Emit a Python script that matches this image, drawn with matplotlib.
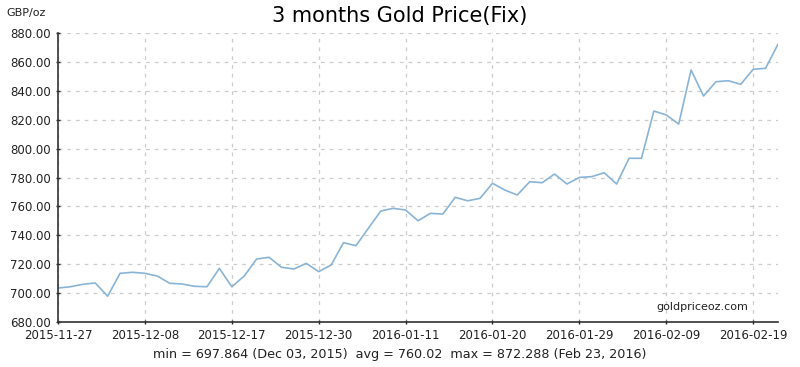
#!/usr/bin/env python3
# 3 months gold price (GBP fix), drawn against trading-day index
import matplotlib
matplotlib.use("Agg")
import matplotlib.pyplot as plt

# --- DATA ---
prices = [
    703.5, 704.4, 706.1, 707.0, 697.864, 713.7, 714.4, 713.7, 711.8, 706.8,
    706.3, 704.7, 704.4, 717.1, 704.4, 711.8, 723.6, 724.8, 717.9, 716.7,
    720.6, 714.9, 719.4, 734.9, 732.8, 744.8, 756.8, 758.7, 757.5, 750.1,
    755.2, 754.7, 766.3, 763.9, 765.6, 776.0, 771.3, 767.9, 777.1, 776.4,
    782.4, 775.5, 780.1, 780.6, 783.3, 775.5, 793.3, 793.3, 826.0, 823.3,
    817.0, 854.4, 836.4, 846.3, 847.0, 844.5, 854.9, 855.6, 872.288,
]
tick_idx = [0, 7, 14, 21, 28, 35, 42, 49, 56]
tick_labels = ["2015-11-27", "2015-12-08", "2015-12-17", "2015-12-30", "2016-01-11",
               "2016-01-20", "2016-01-29", "2016-02-09", "2016-02-19"]
y_ticks = [680, 700, 720, 740, 760, 780, 800, 820, 840, 860, 880]
summary = "min = 697.864 (Dec 03, 2015)  avg = 760.02  max = 872.288 (Feb 23, 2016)"

plt.rcParams['font.family'] = ['Liberation Sans Narrow', 'DejaVu Sans']

fig = plt.figure(figsize=(8, 3.67), dpi=100)
ax = fig.add_axes([0.0725, 0.1226, 0.9, 0.7874])

ax.plot(range(len(prices)), prices, color='#8ab4d6', linewidth=1.2)

ax.set_xlim(0, len(prices) - 1)
ax.set_ylim(680, 880)
ax.set_xticks(tick_idx)
ax.set_xticklabels(tick_labels)
ax.set_yticks(y_ticks)
ax.set_yticklabels([f"{v:.2f}" for v in y_ticks])
ax.tick_params(labelsize=8.5, colors='#222222', length=3, direction='inout', width=1)

ax.grid(True, color='#cccccc', linestyle=(0, (3, 4)), linewidth=0.9)
for s in ('top', 'right'):
    ax.spines[s].set_visible(False)
for s in ('left', 'bottom'):
    ax.spines[s].set_color('#333333')
    ax.spines[s].set_linewidth(1.2)

fig.text(0.5, 0.957, "3 months Gold Price(Fix)", ha='center', va='center',
         fontsize=15, family=['DejaVu Sans'])
fig.text(0.008, 0.965, "GBP/oz", ha='left', va='center', fontsize=8, color='#222222')
ax.text(0.958, 0.035, "goldpriceoz.com", transform=ax.transAxes, ha='right', va='bottom',
        fontsize=8, color='#222222')
fig.text(0.5, 0.035, summary, ha='center', va='center', fontsize=9.2,
         family=['DejaVu Sans'], color='#222222')

fig.savefig("out.png", dpi=100)
